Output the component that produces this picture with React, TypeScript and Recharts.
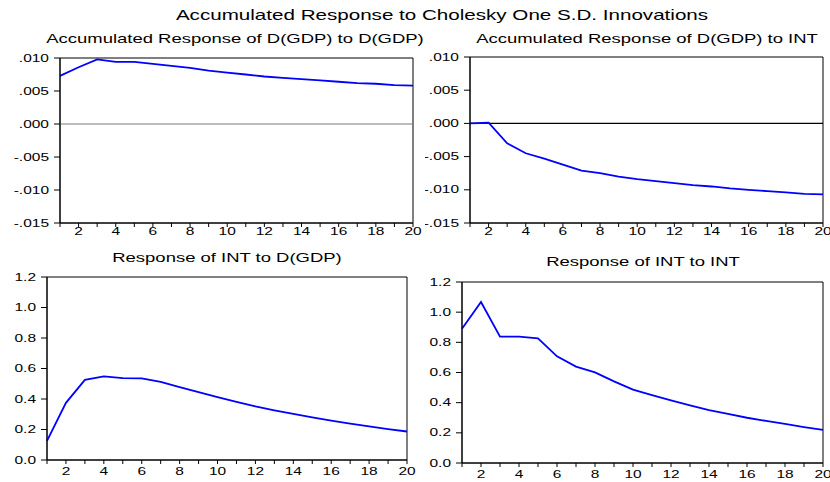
import React from 'react'
import { LineChart, Line, XAxis, YAxis, ReferenceLine, ReferenceArea } from 'recharts'

// horizon 1..20, values
const periods = [1, 2, 3, 4, 5, 6, 7, 8, 9, 10, 11, 12, 13, 14, 15, 16, 17, 18, 19, 20]
const xTicks = periods

const gdpToGdp = [0.0073, 0.0086, 0.0098, 0.0094, 0.0094, 0.0091, 0.0088, 0.0085, 0.0081, 0.0078,
  0.0075, 0.0072, 0.0070, 0.0068, 0.0066, 0.0064, 0.0062, 0.0061, 0.0059, 0.0058]
const gdpToInt = [0.0, 0.0001, -0.0030, -0.0045, -0.0053, -0.0062, -0.0071, -0.0075, -0.0080, -0.0084,
  -0.0087, -0.0090, -0.0093, -0.0095, -0.0098, -0.0100, -0.0102, -0.0104, -0.0106, -0.0107]
const intToGdp = [0.125, 0.375, 0.525, 0.548, 0.537, 0.535, 0.513, 0.478, 0.445, 0.412,
  0.381, 0.352, 0.326, 0.302, 0.279, 0.258, 0.238, 0.220, 0.203, 0.187]
const intToInt = [0.89, 1.067, 0.838, 0.838, 0.826, 0.707, 0.639, 0.601, 0.541, 0.486,
  0.450, 0.415, 0.382, 0.351, 0.325, 0.300, 0.279, 0.259, 0.238, 0.219]

const accTicks = [-0.015, -0.01, -0.005, 0, 0.005, 0.01]
const respTicks = [0, 0.2, 0.4, 0.6, 0.8, 1.0, 1.2]

const mainTitle = 'Accumulated Response to Cholesky One S.D. Innovations'
const titles = [
  'Accumulated Response of D(GDP) to D(GDP)',
  'Accumulated Response of D(GDP) to INT',
  'Response of INT to D(GDP)',
  'Response of INT to INT',
]

const FONT = '"Liberation Sans", Arial, sans-serif'
const TEXT_STRETCH = 1.42
const TICK_STRETCH = 1.55

const fmtAcc = (v: number) => {
  const s = Math.abs(v).toFixed(3).replace(/^0/, '')
  return v < -1e-9 ? '-' + s : s
}
const fmtResp = (v: number) => v.toFixed(1)
const fmtX = (v: number) => (v % 2 === 0 ? String(v) : '')

function StretchTick(props: any) {
  const { x, y, payload, textAnchor, fmt, axis } = props
  const label = fmt(payload.value)
  return (
    <text
      transform={`translate(${x},${y}) scale(${TICK_STRETCH},1)`}
      textAnchor={textAnchor}
      dy={axis === 'x' ? '0.71em' : '0.35em'}
      fontSize={10}
      fontFamily={FONT}
      fill="#000"
    >
      {label}
    </text>
  )
}

function Title({ text, cx, top, size }: { text: string; cx: number; top: number; size: number }) {
  return (
    <div
      style={{
        position: 'absolute', left: cx - 300, width: 600, top,
        textAlign: 'center', fontFamily: FONT, fontSize: size, lineHeight: `${size}px`,
        whiteSpace: 'nowrap', color: '#000',
        transform: `scaleX(${TEXT_STRETCH})`, transformOrigin: '50% 50%',
      }}
    >
      {text}
    </div>
  )
}

type Box = { left: number; top: number; width: number; height: number }
type Plot = { x0: number; x1: number; y0: number; y1: number }

type PanelProps = {
  box: Box
  plot: Plot
  values: number[]
  domain: [number, number]
  yTicks: number[]
  fmt: (v: number) => string
  zeroColor?: string
  xGap: number
}

function Panel({ box, plot, values, domain, yTicks, fmt, zeroColor, xGap }: PanelProps) {
  const xAxisHeight = 20
  const data = periods.map((p, i) => ({ period: p, value: values[i] }))
  const margin = {
    top: plot.y0 - box.top,
    right: box.left + box.width - plot.x1,
    bottom: box.top + box.height - plot.y1 - xAxisHeight,
    left: 0,
  }
  return (
    <div style={{ position: 'absolute', left: box.left, top: box.top }}>
      <LineChart width={box.width} height={box.height} data={data} margin={margin}>
        <XAxis
          dataKey="period" type="number" domain={[1, 20]} ticks={xTicks} interval={0}
          height={xAxisHeight} tickSize={4} tickMargin={xGap} stroke="#000"
          tick={<StretchTick fmt={fmtX} axis="x" />}
        />
        <YAxis
          type="number" domain={domain} ticks={yTicks} interval={0}
          width={plot.x0 - box.left} tickSize={6} tickMargin={5} stroke="#000"
          tick={<StretchTick fmt={fmt} axis="y" />}
        />
        {/* plot frame */}
        <ReferenceArea x1={1} x2={20} y1={domain[0]} y2={domain[1]} fill="none" stroke="#000" strokeWidth={1} />
        {zeroColor && <ReferenceLine y={0} stroke={zeroColor} strokeWidth={1.2} />}
        <Line type="linear" dataKey="value" stroke="#0000ff" strokeWidth={1.8} dot={false} isAnimationActive={false} />
      </LineChart>
    </div>
  )
}

export default function App() {
  return (
    <div style={{ position: 'absolute', left: 0, top: 0, width: 830, height: 482, overflow: 'hidden', background: '#fff' }}>
      <Title text={mainTitle} cx={441.5} top={7.7} size={14.5} />
      <Title text={titles[0]} cx={235} top={31.7} size={13} />
      <Title text={titles[1]} cx={646.5} top={31.7} size={13} />
      <Title text={titles[2]} cx={226.7} top={250.7} size={13} />
      <Title text={titles[3]} cx={642.5} top={254.7} size={13} />

      <Panel
        box={{ left: 0, top: 45, width: 425, height: 205 }}
        plot={{ x0: 60, x1: 413, y0: 58, y1: 223 }}
        values={gdpToGdp} domain={[-0.015, 0.01]} yTicks={accTicks} fmt={fmtAcc}
        zeroColor="#7a7a7a" xGap={1}
      />
      <Panel
        box={{ left: 425, top: 45, width: 405, height: 205 }}
        plot={{ x0: 470, x1: 823, y0: 57, y1: 223 }}
        values={gdpToInt} domain={[-0.015, 0.01]} yTicks={accTicks} fmt={fmtAcc}
        zeroColor="#000" xGap={1}
      />
      <Panel
        box={{ left: 0, top: 265, width: 425, height: 225 }}
        plot={{ x0: 47, x1: 407, y0: 277, y1: 460 }}
        values={intToGdp} domain={[0, 1.2]} yTicks={respTicks} fmt={fmtResp}
        xGap={4}
      />
      <Panel
        box={{ left: 425, top: 265, width: 405, height: 225 }}
        plot={{ x0: 462, x1: 823, y0: 282, y1: 463 }}
        values={intToInt} domain={[0, 1.2]} yTicks={respTicks} fmt={fmtResp}
        xGap={4}
      />
    </div>
  )
}
